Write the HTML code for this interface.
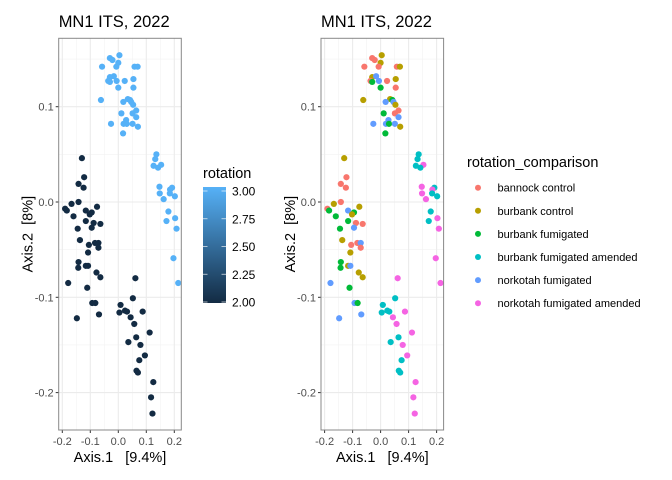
<!DOCTYPE html>
<html><head><meta charset="utf-8">
<style>
body{margin:0;background:#fff;}
svg{display:block;font-family:"Liberation Sans",sans-serif;}
text{white-space:pre;}
</style></head>
<body>
<svg id="chart" width="672" height="480" viewBox="0 0 672 480"></svg>
<script>
// Ordination scores (Axis.1, Axis.2), group index and rotation value per sample
const axis1 = [-0.030,-0.021,0.004,0.000,-0.058,-0.007,0.058,0.069,-0.030,-0.016,-0.036,-0.030,-0.006,0.023,0.054,0.000,0.054,-0.062,0.034,0.042,0.018,0.046,0.053,0.064,0.051,0.011,0.064,0.028,-0.026,0.019,0.030,0.051,0.070,0.017,
0.136,0.132,0.126,0.153,0.142,0.147,0.192,0.185,0.148,0.184,0.202,0.162,0.179,0.172,0.203,0.208,0.197,0.214,
-0.130,-0.122,-0.142,-0.124,-0.167,-0.142,-0.190,-0.184,-0.116,-0.076,-0.095,-0.102,-0.160,-0.116,-0.088,-0.064,-0.095,-0.145,-0.137,-0.105,-0.083,-0.071,-0.071,-0.108,-0.142,-0.143,-0.116,-0.108,-0.078,-0.064,-0.179,-0.111,
0.061,0.052,-0.093,-0.082,0.008,0.004,0.024,0.031,0.087,-0.148,-0.069,0.044,0.057,0.112,0.064,0.036,0.079,0.095,0.075,0.065,0.070,0.125,0.117,0.122];
const axis2 = [0.151,0.149,0.154,0.146,0.142,0.142,0.142,0.142,0.131,0.132,0.127,0.126,0.127,0.127,0.129,0.120,0.120,0.107,0.108,0.107,0.105,0.105,0.102,0.096,0.093,0.093,0.089,0.086,0.082,0.082,0.082,0.082,0.079,0.072,
0.050,0.045,0.038,0.039,0.036,0.016,0.015,0.013,0.009,0.009,0.006,0.003,-0.010,-0.020,-0.017,-0.028,-0.059,-0.085,
0.046,0.026,0.019,0.015,-0.002,0.000,-0.007,-0.009,-0.009,-0.005,-0.011,-0.013,-0.015,-0.020,-0.022,-0.023,-0.027,-0.028,-0.040,-0.045,-0.043,-0.043,-0.048,-0.053,-0.063,-0.069,-0.067,-0.067,-0.074,-0.079,-0.085,-0.090,
-0.080,-0.101,-0.106,-0.106,-0.108,-0.116,-0.114,-0.115,-0.115,-0.122,-0.118,-0.121,-0.128,-0.137,-0.142,-0.147,-0.150,-0.161,-0.166,-0.177,-0.179,-0.189,-0.205,-0.222];
const groupIdx = [0,0,1,1,0,0,0,1,1,4,0,2,4,0,1,2,0,1,1,2,4,4,1,0,0,2,4,4,4,4,2,4,1,2,
3,3,3,5,3,5,3,5,5,3,3,5,3,3,5,5,5,5,
1,0,0,0,1,0,0,2,4,1,2,1,2,2,0,0,4,2,1,0,0,4,0,1,2,2,1,4,1,1,4,2,
5,3,4,2,3,3,3,3,5,4,4,5,5,5,3,3,5,5,3,3,3,5,5,5];
const rotation = [3,3,3,3,3,3,3,3,3,3,3,3,3,3,3,3,3,3,3,3,3,3,3,3,3,3,3,3,3,3,3,3,3,3,
3,3,3,3,3,3,3,3,3,3,3,3,3,3,3,3,3,3,
2,2,2,2,2,2,2,2,2,2,2,2,2,2,2,2,2,2,2,2,2,2,2,2,2,2,2,2,2,2,2,2,
2,2,2,2,2,2,2,2,2,2,2,2,2,2,2,2,2,2,2,2,2,2,2,2];
const groups = ["bannock control","burbank control","burbank fumigated","burbank fumigated amended","norkotah fumigated","norkotah fumigated amended"];
const xTicks = [-0.2,-0.1,0.0,0.1,0.2];
const yTicks = [-0.2,-0.1,0.0,0.1];
const xTickLabels = ["-0.2","-0.1","0.0","0.1","0.2"];
const yTickLabels = ["-0.2","-0.1","0.0","0.1"];
const rotTicks = [2.00,2.25,2.50,2.75,3.00];
const rotTickLabels = ["2.00","2.25","2.50","2.75","3.00"];

const groupColors = ["#F8766D","#B79F00","#00BA38","#00BFC4","#619CFF","#F564E3"];
const NS = "http://www.w3.org/2000/svg";
const svg = document.getElementById("chart");
function el(tag, attrs, parent){const e=document.createElementNS(NS,tag);for(const k in attrs)e.setAttribute(k,attrs[k]);(parent||svg).appendChild(e);return e;}
function ys(v){return 202 - v*953;}
function rotColor(r){const t=(r-2)/1;const a=[0x13,0x2B,0x43],b=[0x56,0xB1,0xF7];return "rgb("+a.map((c,i)=>Math.round(c+(b[i]-c)*t)).join(",")+")";}
function rotY(r){return 302 - (r-2)*111;}

function panel(x0, x1, zeroX, name, colorFn){
  const xs = v => zeroX + v*280;
  const g = el("g",{});  
  const top=38.3,bot=430;
  el("rect",{x:x0,y:top,width:x1-x0,height:bot-top,fill:"#fff"},g);
  for(let v=-0.25;v<=0.25;v+=0.1){const x=xs(v);if(x>x0&&x<x1)el("line",{x1:x,x2:x,y1:top,y2:bot,stroke:"#F2F2F2","stroke-width":0.6},g);}
  for(let v=-0.25;v<=0.2;v+=0.1){const y=ys(v);if(y>top&&y<bot)el("line",{x1:x0,x2:x1,y1:y,y2:y,stroke:"#F2F2F2","stroke-width":0.6},g);}
  xTicks.forEach((v,i)=>{const x=xs(v);const l=el("line",{x1:x,x2:x,y1:top,y2:bot,stroke:"#EBEBEB","stroke-width":1.1},g);
    el("line",{x1:x,x2:x,y1:bot,y2:bot+3,stroke:"#333","stroke-width":1},g);
    const t=el("text",{x:x,y:445,"text-anchor":"middle","font-size":11,fill:"#4D4D4D"},g);t.textContent=xTickLabels[i];});
  yTicks.forEach((v,i)=>{const y=ys(v);const l=el("line",{x1:x0,x2:x1,y1:y,y2:y,stroke:"#EBEBEB","stroke-width":1.1},g);
    el("line",{x1:x0-3,x2:x0,y1:y,y2:y,stroke:"#333","stroke-width":1},g);
    const t=el("text",{x:x0-5,y:y+4,"text-anchor":"end","font-size":11,fill:"#4D4D4D"},g);t.textContent=yTickLabels[i];});
  axis1.forEach((v,i)=>{const c=el("circle",{cx:xs(v),cy:ys(axis2[i]),r:3.1,fill:colorFn(i)},g);});
  el("rect",{x:x0,y:top,width:x1-x0,height:bot-top,fill:"none",stroke:"#888","stroke-width":1},g);
  const tt=el("text",{x:x0,y:27,"font-size":16.5,fill:"#000"},g);tt.textContent="MN1 ITS, 2022";
  const xt=el("text",{x:(x0+x1)/2,y:462,"text-anchor":"middle","font-size":14.5,fill:"#000"},g);xt.textContent="Axis.1   [9.4%]";
  const cy=(top+bot)/2;const yt=el("text",{x:x0-26,y:cy,"text-anchor":"middle","font-size":14.5,fill:"#000",transform:"rotate(-90 "+(x0-26)+" "+cy+")"},g);yt.textContent="Axis.2  [8%]";
}
panel(58.7,181.3,118.3,"left-panel-rotation",i=>rotColor(rotation[i]));
panel(321,443.6,380.6,"right-panel-comparison",i=>groupColors[groupIdx[i]]);

const defs=el("defs",{});const lg=el("linearGradient",{id:"rg",x1:0,y1:1,x2:0,y2:0},defs);
el("stop",{offset:0,"stop-color":rotColor(2)},lg);el("stop",{offset:1,"stop-color":rotColor(3)},lg);
const cb=el("g",{});
const ct=el("text",{x:203,y:178,"font-size":14.5,fill:"#000"},cb);ct.textContent="rotation";
el("rect",{x:203,y:187,width:23,height:116,fill:"url(#rg)"},cb);
rotTicks.forEach((r,i)=>{const y=rotY(r);
  el("line",{x1:203,x2:207.5,y1:y,y2:y,stroke:"#fff","stroke-width":0.8,opacity:0.8},cb);
  el("line",{x1:221.5,x2:226,y1:y,y2:y,stroke:"#fff","stroke-width":0.8,opacity:0.8},cb);
  const t=el("text",{x:232,y:y+4.5,"font-size":12,fill:"#000"},cb);t.textContent=rotTickLabels[i];});

const lgG=el("g",{});
const lt=el("text",{x:467,y:167,"font-size":14.5,fill:"#000"},lgG);lt.textContent="rotation_comparison";
groups.forEach((name,i)=>{const y=187.7+i*23.1;
  const e=el("g",{},lgG);
  el("circle",{cx:478,cy:y,r:3,fill:groupColors[i]},e);
  const t=el("text",{x:497.5,y:y+4,"font-size":11,fill:"#000"},e);t.textContent=name;});
</script>
</body></html>
